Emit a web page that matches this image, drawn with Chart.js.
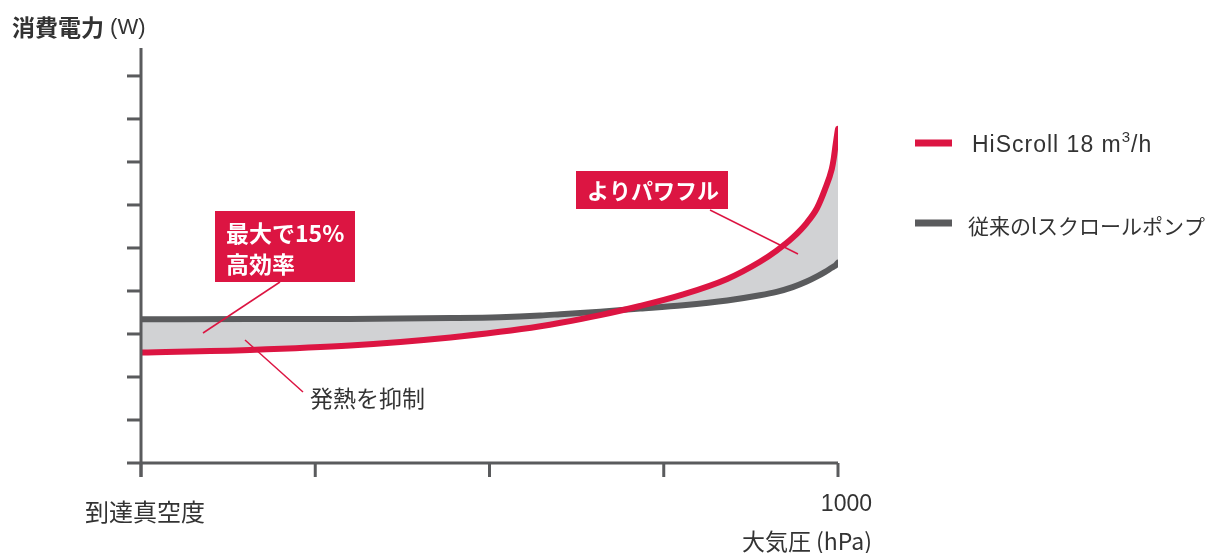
<!DOCTYPE html>
<html>
<head>
<meta charset="utf-8">
<script src="https://cdn.jsdelivr.net/npm/chart.js@4"></script>
<style>
  html, body { margin: 0; padding: 0; background: #fff; }
  #wrap { width: 1209px; height: 553px; position: relative; }
</style>
</head>
<body>
<div id="wrap"><canvas id="myChart"></canvas></div>
<script>
const ctx = document.getElementById("myChart").getContext("2d");

// x = pressure (hPa), from ultimate vacuum up to 1000
const pressure = [0, 156, 300, 444, 515, 573, 602, 659, 716, 778, 841, 888, 912, 935, 955, 970, 981, 991, 994, 996, 998, 1000];
// power consumption, arbitrary units (one unit per y tick)
const hiscrollPower = [2.57, 2.63, 2.73, 2.92, 3.05, 3.18, 3.26, 3.44, 3.65, 3.92, 4.28, 4.68, 4.94, 5.24, 5.58, 5.93, 6.35, 6.83, 7.09, 7.33, 7.56, 7.77];
const conventionalPower = [3.34, 3.35, 3.35, 3.37, 3.39, 3.43, 3.46, 3.52, 3.59, 3.67, 3.78, 3.9, 3.98, 4.09, 4.22, 4.34, 4.44, 4.54, 4.57, 4.59, 4.62, 4.66];

const seriesNames = ["HiScroll 18 m³/h", "従来のlスクロールポンプ"];
const xTicks = [0, 250, 500, 750, 1000];
const xTickLabels = ["到達真空度", "", "", "", "1000"];
const yTicks = [1, 2, 3, 4, 5, 6, 7, 8, 9];

const RED = "#dc1542";
const GREY = "#5a5b5d";
const FILL = "#d1d2d4";
const TEXT = "#333333";
const JP = "'Noto Sans CJK JP', sans-serif";
const LATIN = "'Liberation Sans', Arial, sans-serif";

// axes, ticks, labels, legend and callouts
const decorations = {
  id: "decorations",
  afterDraw(chart) {
    const c = chart.ctx;
    const xs = chart.scales.x;
    const ys = chart.scales.y;
    const x0 = xs.getPixelForValue(0);
    const y0 = ys.getPixelForValue(0);
    const top = chart.chartArea.top;
    const right = xs.getPixelForValue(1000);
    const tick = 14;

    c.save();
    c.strokeStyle = GREY;
    c.lineWidth = 3;
    c.lineCap = "butt";
    // y axis
    c.beginPath();
    c.moveTo(x0, top);
    c.lineTo(x0, y0 + tick);
    c.stroke();
    // x axis
    c.beginPath();
    c.moveTo(x0 - tick, y0);
    c.lineTo(right, y0);
    c.stroke();
    yTicks.forEach((v) => {
      const y = ys.getPixelForValue(v);
      c.beginPath();
      c.moveTo(x0 - tick, y);
      c.lineTo(x0, y);
      c.stroke();
    });
    xTicks.forEach((v) => {
      const x = xs.getPixelForValue(v);
      c.beginPath();
      c.moveTo(x, y0);
      c.lineTo(x, y0 + tick);
      c.stroke();
    });

    // x tick labels
    c.fillStyle = TEXT;
    c.textBaseline = "middle";
    c.font = "24px " + JP;
    c.textAlign = "center";
    c.fillText(xTickLabels[0], xs.getPixelForValue(xTicks[0]) + 4, 512);
    c.font = "23px " + LATIN;
    c.textAlign = "right";
    c.fillText(xTickLabels[4], right + 34, 505);
    c.font = "23px " + JP;
    c.fillText("大気圧 (hPa)", right + 34, 541);

    // y axis title
    c.textAlign = "left";
    c.font = "bold 23px " + JP;
    c.fillText("消費電力", 12, 27);
    const w = c.measureText("消費電力").width;
    c.font = "22px " + LATIN;
    c.fillText(" (W)", 12 + w, 28);

    // legend swatches
    c.fillStyle = RED;
    c.fillRect(915, 139.5, 37, 7);
    c.fillStyle = GREY;
    c.fillRect(915, 219.5, 37, 7);
    // legend texts (superscript 3 drawn on its own)
    c.fillStyle = TEXT;
    c.letterSpacing = "1px";
    c.font = "23px " + LATIN;
    const parts = seriesNames[0].split("³");
    let tx = 972;
    c.fillText(parts[0], tx, 146);
    tx += c.measureText(parts[0]).width;
    c.font = "15px " + LATIN;
    c.fillText("3", tx, 138);
    tx += c.measureText("3").width;
    c.font = "23px " + LATIN;
    c.fillText(parts[1], tx, 146);
    c.letterSpacing = "0px";
    c.font = "21px " + JP;
    c.fillText(seriesNames[1], 968, 226);

    // callout leader lines
    c.strokeStyle = RED;
    c.lineWidth = 1.5;
    [[280, 282, 203, 333], [245, 340, 303, 392], [710, 210, 798, 254]].forEach((s) => {
      c.beginPath();
      c.moveTo(s[0], s[1]);
      c.lineTo(s[2], s[3]);
      c.stroke();
    });

    // callout boxes
    c.fillStyle = RED;
    c.fillRect(215, 211, 140, 71);
    c.fillRect(576, 171, 152, 38);
    c.fillStyle = "#ffffff";
    c.font = "bold 23px " + JP;
    c.fillText("最大で15%", 226, 233);
    c.fillText("高効率", 226, 264);
    c.font = "bold 22px " + JP;
    c.fillText("よりパワフル", 587, 191);

    c.fillStyle = TEXT;
    c.font = "23px " + JP;
    c.fillText("発熱を抑制", 310, 398);
    c.restore();
  },
};

const data = {
  labels: pressure,
  datasets: [
    {
      label: seriesNames[0],
      data: pressure.map((p, i) => ({ x: p, y: hiscrollPower[i] })),
      borderColor: RED,
      borderWidth: 6,
      borderCapStyle: "round",
      borderJoinStyle: "round",
      pointRadius: 0,
      cubicInterpolationMode: "monotone",
      fill: false,
    },
    {
      label: seriesNames[1],
      data: pressure.map((p, i) => ({ x: p, y: conventionalPower[i] })),
      borderColor: GREY,
      backgroundColor: FILL,
      borderWidth: 6,
      borderCapStyle: "round",
      borderJoinStyle: "round",
      pointRadius: 0,
      cubicInterpolationMode: "monotone",
      // grey band between the two curves
      fill: "-1",
    },
  ],
};

const config = {
  type: "line",
  data: data,
  options: {
    responsive: true,
    maintainAspectRatio: false,
    animation: false,
    layout: {
      padding: { left: 141, right: 371, top: 48, bottom: 90 },
    },
    plugins: {
      legend: { display: false },
      tooltip: { enabled: false },
      filler: { drawTime: "beforeDatasetsDraw" },
    },
    scales: {
      x: { type: "linear", min: 0, max: 1000, display: false },
      y: { type: "linear", min: 0, max: 9.65, display: false },
    },
  },
  plugins: [decorations],
};

const myChart = new Chart(ctx, config);
</script>
</body>
</html>
